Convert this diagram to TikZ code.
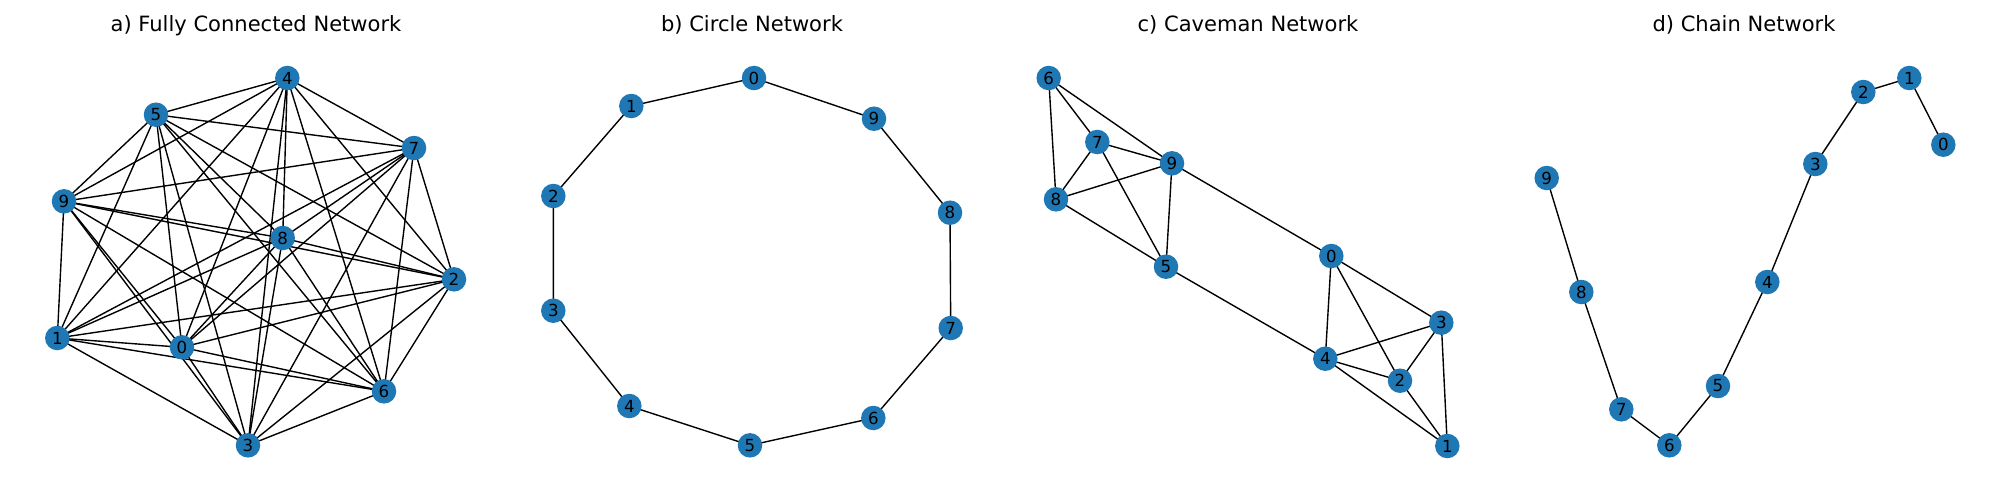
\documentclass[tikz,border=0pt]{standalone}
\usepackage{fontspec}
\setmainfont{DejaVu Sans}
\usetikzlibrary{backgrounds}
\definecolor{nodeblue}{HTML}{1F77B4}
\tikzset{
	vert/.style={circle, fill=nodeblue, draw=none, inner sep=0pt, minimum size=0.245in, font=\fontsize{12}{12}\selectfont},
	edge/.style={draw=black, line width=1bp},
	paneltitle/.style={anchor=base, font=\fontsize{15.2}{15.2}\selectfont}
}
\begin{document}
\begin{tikzpicture}[x=0.01in, y=-0.01in]
		\useasboundingbox (0,0) rectangle (2000,500);
		
		\node[paneltitle] (ta) at (256,31.5) {a) Fully Connected Network};
		\node[paneltitle] (tb) at (752,31.5) {b) Circle Network};
		\node[paneltitle] (tc) at (1248,31.5) {c) Caveman Network};
		\node[paneltitle] (td) at (1744,31.5) {d) Chain Network};
		
		\node[vert] (a0) at (182,347.3) {0};
		\node[vert] (a1) at (57.3,338) {1};
		\node[vert] (a2) at (454,279.3) {2};
		\node[vert] (a3) at (248,445.3) {3};
		\node[vert] (a4) at (287.3,78) {4};
		\node[vert] (a5) at (156,114.7) {5};
		\node[vert] (a6) at (384,391.3) {6};
		\node[vert] (a7) at (414,148) {7};
		\node[vert] (a8) at (282.7,238) {8};
		\node[vert] (a9) at (64,201.3) {9};
		
		\node[vert] (b0) at (754,78) {0};
		\node[vert] (b1) at (631.3,106) {1};
		\node[vert] (b2) at (553.3,196) {2};
		\node[vert] (b3) at (553.3,310.7) {3};
		\node[vert] (b4) at (629.3,406) {4};
		\node[vert] (b5) at (750,445.3) {5};
		\node[vert] (b6) at (873.3,418) {6};
		\node[vert] (b7) at (950.7,328) {7};
		\node[vert] (b8) at (950,212.7) {8};
		\node[vert] (b9) at (874,118.7) {9};
		
		\node[vert] (c0) at (1331.3,256) {0};
		\node[vert] (c1) at (1447.3,446) {1};
		\node[vert] (c2) at (1400,380.7) {2};
		\node[vert] (c3) at (1441.3,322.7) {3};
		\node[vert] (c4) at (1325.3,358.7) {4};
		\node[vert] (c5) at (1166,266.7) {5};
		\node[vert] (c6) at (1048.7,78) {6};
		\node[vert] (c7) at (1097.3,142) {7};
		\node[vert] (c8) at (1056,199.3) {8};
		\node[vert] (c9) at (1172,163.3) {9};
		
		\node[vert] (d0) at (1943.3,144.7) {0};
		\node[vert] (d1) at (1909.3,78) {1};
		\node[vert] (d2) at (1863.3,92) {2};
		\node[vert] (d3) at (1815.3,164) {3};
		\node[vert] (d4) at (1767.3,282) {4};
		\node[vert] (d5) at (1718,386) {5};
		\node[vert] (d6) at (1669.3,445.3) {6};
		\node[vert] (d7) at (1621.3,409.3) {7};
		\node[vert] (d8) at (1581.3,292) {8};
		\node[vert] (d9) at (1546.7,178) {9};
		
		\begin{scope}[on background layer]
		\foreach \i in {0,...,8} {
			\pgfmathtruncatemacro{\nxt}{\i+1}
			\foreach \j in {\nxt,...,9}
				\draw[edge] (a\i.center) -- (a\j.center);
		}
		\draw[edge] (b0.center) -- (b1.center) -- (b2.center) -- (b3.center) -- (b4.center) -- (b5.center) -- (b6.center) -- (b7.center) -- (b8.center) -- (b9.center) -- (b0.center);
		\foreach \p/\q in {6/7,6/9,6/8,7/9,7/8,7/5,9/8,9/5,9/0,8/5,5/4,0/4,0/2,0/3,3/4,3/2,3/1,4/2,4/1,2/1}
			\draw[edge] (c\p.center) -- (c\q.center);
		\draw[edge] (d0.center) -- (d1.center) -- (d2.center) -- (d3.center) -- (d4.center) -- (d5.center) -- (d6.center) -- (d7.center) -- (d8.center) -- (d9.center);
		\end{scope}
		
\end{tikzpicture}
\end{document}
